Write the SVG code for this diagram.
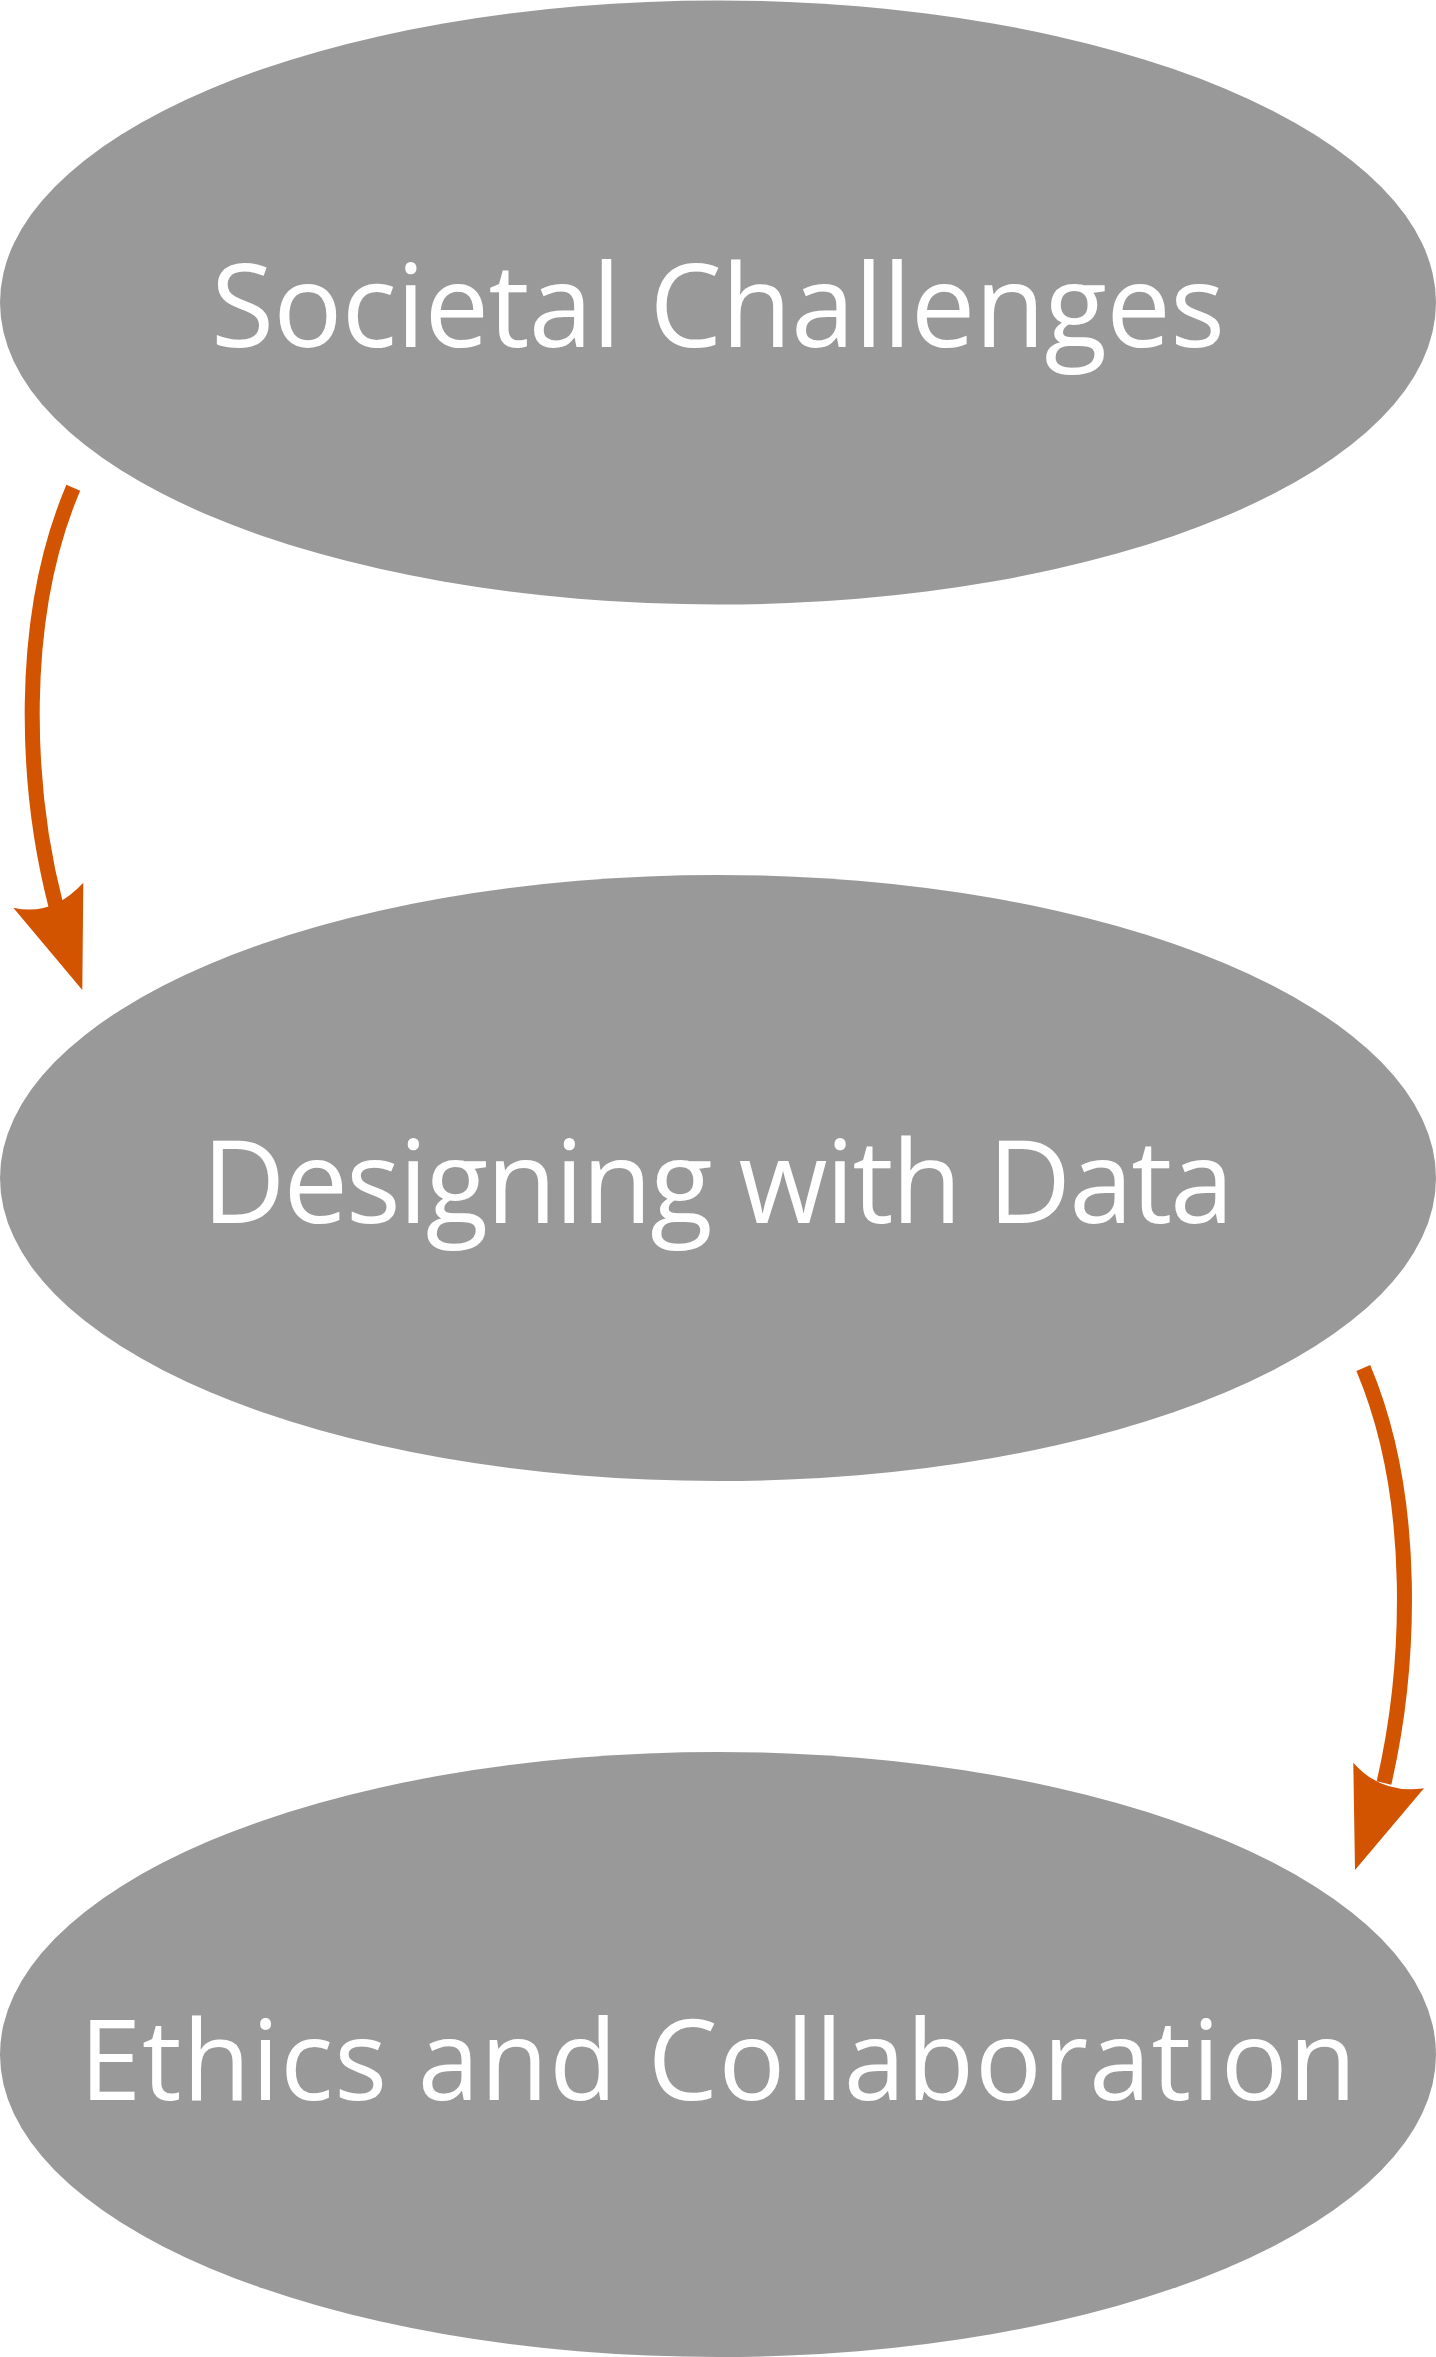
<svg xmlns="http://www.w3.org/2000/svg" width="1436" height="2357" viewBox="0 0 1436 2357">
<style>
.node{fill:#999999;}
.lbl{fill:#ffffff;font-family:"Open Sans","Noto Sans","Liberation Sans",sans-serif;font-weight:400;text-anchor:middle;}
.shaft{fill:none;stroke:#d35400;stroke-width:15;}
.head{fill:#d35400;stroke:none;}
</style>
<rect width="1436" height="2357" fill="#ffffff"/>
<g id="node-societal">
<ellipse class="node" cx="718" cy="302.5" rx="718" ry="302"/>
<text class="lbl" x="718" y="347" font-size="115" textLength="1014">Societal Challenges</text>
</g>
<g id="node-designing">
<ellipse class="node" cx="718" cy="1178" rx="718" ry="303"/>
<text class="lbl" x="718" y="1223" font-size="115" textLength="1032">Designing with Data</text>
</g>
<g id="node-ethics">
<ellipse class="node" cx="718" cy="2054.5" rx="718" ry="302.5"/>
<text class="lbl" x="718" y="2099.5" font-size="111" textLength="1277">Ethics and Collaboration</text>
</g>
<g id="connectors">
<path class="shaft" d="M73.3,487.7 C17,620 26,790 56,906"/>
<path class="head" d="M13.3,907.7 Q51.7,916.8 83.3,882.7 L82.3,990 Z"/>
<path class="shaft" d="M1363.3,1368 C1419,1500 1410,1670 1384,1783"/>
<path class="head" d="M1353.3,1762.7 Q1381.4,1794.5 1424,1788.3 L1355,1870 Z"/>
</g>
</svg>
